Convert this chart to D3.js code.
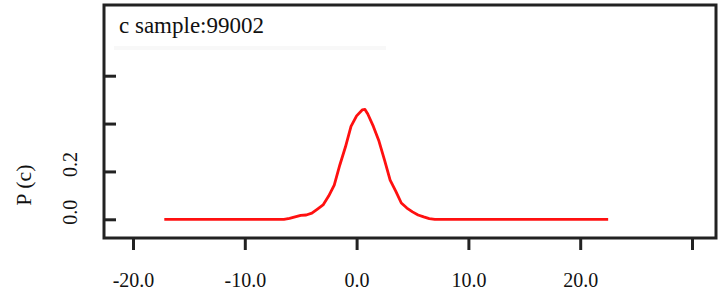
<!DOCTYPE html>
<html>
<head>
<meta charset="utf-8">
<script src="https://cdn.jsdelivr.net/npm/d3@7"></script>
<style>
  body { margin: 0; background: #fff; }
  svg { display: block; }
  svg text { font-family: "Liberation Serif", "Times New Roman", "DejaVu Serif", serif; }
</style>
</head>
<body>
<div id="chart"></div>
<script>
// distribution of c
const cValues = [-17.2, -6.5, -6, -5.5, -5, -4.5, -4, -3.5, -3, -2.5, -2, -1.5, -1, -0.5, 0, 0.5, 0.75, 1, 1.5, 2, 2.5, 3, 3.5, 4, 4.5, 5, 5.5, 6, 6.5, 7, 22.5];
const pValues = [0, 0, 0.004, 0.01, 0.016, 0.018, 0.026, 0.043, 0.06, 0.097, 0.143, 0.227, 0.302, 0.388, 0.432, 0.457, 0.459, 0.44, 0.388, 0.327, 0.247, 0.164, 0.118, 0.068, 0.047, 0.031, 0.018, 0.01, 0.003, 0, 0];
const xTicks = [-20, -10, 0, 10, 20, 30];
const xTickLabels = ["-20.0", "-10.0", "0.0", "10.0", "20.0", ""];
const yTicks = [0, 0.2, 0.4, 0.6];
const yTickLabels = ["0.0", "0.2", "", ""];
const title = "c sample:99002";
const yTitle = "P (c)";

const width = 720, height = 294;
const box = { left: 104, right: 716, top: 5, bottom: 238 };

const svg = d3.select("#chart").append("svg")
  .attr("width", width)
  .attr("height", height);

const x = d3.scaleLinear().domain([-20, 30]).range([133, 692]);
const y = d3.scaleLinear().domain([0, 0.6]).range([219.3, 75.7]);

// faint strip under the title
svg.append("rect")
  .attr("x", 114).attr("y", 46)
  .attr("width", 272).attr("height", 4)
  .attr("fill", "#f8f8f8");

// data line
const data = cValues.map((c, i) => ({ c: c, p: pValues[i] }));
svg.append("path")
  .datum(data)
  .attr("fill", "none")
  .attr("stroke", "#ff1010")
  .attr("stroke-width", 2.8)
  .attr("stroke-linejoin", "round")
  .attr("d", d3.line().x(d => x(d.c)).y(d => y(d.p)));

// x axis, ticks pointing down
const xAxis = svg.append("g")
  .attr("transform", `translate(0,${box.bottom})`)
  .call(d3.axisBottom(x).tickValues(xTicks).tickSize(12).tickFormat((d, i) => xTickLabels[i]));
xAxis.attr("font-family", null);
xAxis.select(".domain").remove();
xAxis.selectAll(".tick line").attr("stroke", "#222").attr("stroke-width", 3);
xAxis.selectAll(".tick text")
  .attr("y", 49)
  .attr("dy", 0)
  .attr("font-size", 20)
  .attr("fill", "#111");

// y axis, ticks pointing into the plot
const yAxis = svg.append("g")
  .attr("transform", `translate(${box.left},0)`)
  .call(d3.axisRight(y).tickValues(yTicks).tickSize(12).tickFormat(""));
yAxis.select(".domain").remove();
yAxis.selectAll(".tick line").attr("stroke", "#222").attr("stroke-width", 3);

svg.append("g").selectAll("text")
  .data(yTicks)
  .join("text")
  .attr("transform", d => `translate(77,${y(d) - 7}) rotate(-90)`)
  .attr("text-anchor", "middle")
  .attr("font-size", 20)
  .attr("fill", "#111")
  .text((d, i) => yTickLabels[i]);

// frame
svg.append("rect")
  .attr("x", box.left).attr("y", box.top)
  .attr("width", box.right - box.left).attr("height", box.bottom - box.top)
  .attr("fill", "none")
  .attr("stroke", "#222")
  .attr("stroke-width", 3);

svg.append("text")
  .attr("x", 119).attr("y", 33)
  .attr("font-size", 23)
  .attr("fill", "#111")
  .text(title);

svg.append("text")
  .attr("transform", "translate(31,185) rotate(-90)")
  .attr("text-anchor", "middle")
  .attr("font-size", 22)
  .attr("fill", "#111")
  .text(yTitle);
</script>
</body>
</html>
